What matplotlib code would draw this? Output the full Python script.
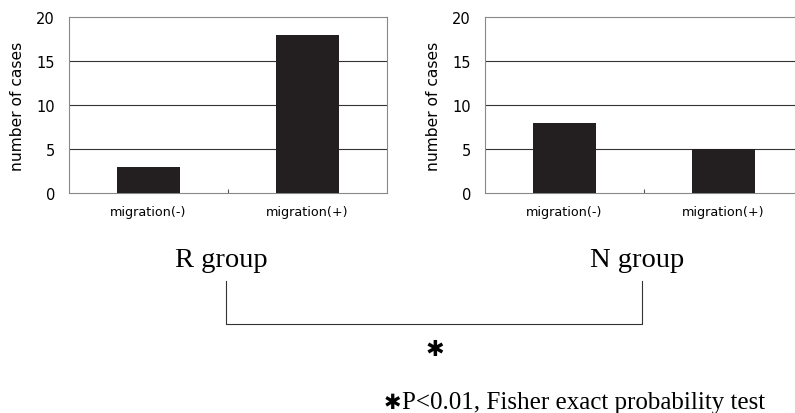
import matplotlib
matplotlib.use("Agg")
import matplotlib.pyplot as plt

# values
categories = ["migration(-)", "migration(+)"]
r_group_cases = [3, 18]
n_group_cases = [8, 5]
y_ticks = [0, 5, 10, 15, 20]
group_names = ["R group", "N group"]
footnote = "P<0.01, Fisher exact probability test"

W, H = 795, 414
BAR_COLOR = "#231f20"


def px_axes(fig, left, top, width, height):
    # place an axes using pixel coordinates measured from the top-left corner
    return fig.add_axes([left / W, (H - top - height) / H, width / W, height / H])


def draw_panel(ax, values):
    x = range(len(categories))
    ax.bar(x, values, width=0.4, color=BAR_COLOR, zorder=3)
    ax.set_xlim(-0.5, len(categories) - 0.5)
    ax.set_ylim(y_ticks[0], y_ticks[-1])
    ax.set_yticks(y_ticks)
    ax.set_yticklabels([str(t) for t in y_ticks], fontsize=10.5)
    ax.tick_params(axis="y", length=0, pad=10)
    # categories as labels without marks, one small inward tick between them
    ax.set_xticks(list(x))
    ax.set_xticklabels(categories, fontsize=9.2)
    ax.tick_params(axis="x", length=0, pad=9)
    ax.set_xticks([0.5], minor=True)
    ax.tick_params(axis="x", which="minor", direction="in", length=3,
                   width=0.8, color="#555555")
    for t in y_ticks[1:-1]:
        ax.axhline(t, color="#333333", linewidth=0.8, zorder=1)
    for side in ax.spines.values():
        side.set_color("#888888")
        side.set_linewidth(0.8)
    ax.set_ylabel("number of cases", fontsize=11.2, labelpad=8)


fig = plt.figure(figsize=(W / 100, H / 100), dpi=100)

ax_r = px_axes(fig, 69, 18, 318, 176)
draw_panel(ax_r, r_group_cases)

ax_n = px_axes(fig, 485, 18, 318, 176)
draw_panel(ax_n, n_group_cases)

# overlay in pixel units for the group names, bracket and notes
ov = fig.add_axes([0, 0, 1, 1])
ov.set_xlim(0, W)
ov.set_ylim(H, 0)
ov.axis("off")

serif = "Liberation Serif"
ov.text(221, 267, group_names[0], fontsize=20.5, family=serif,
        ha="center", va="baseline")
ov.text(637, 267, group_names[1], fontsize=20.5, family=serif,
        ha="center", va="baseline")

ov.plot([226, 226, 642, 642], [282, 325, 325, 282],
        color="#333333", linewidth=0.8)

ov.text(435, 350, "\u2731", fontsize=16, family="DejaVu Sans",
        ha="center", va="center")

ov.text(392, 403, "\u2731", fontsize=15, family="DejaVu Sans",
        ha="center", va="center")
ov.text(402, 409, footnote, fontsize=18, family=serif,
        ha="left", va="baseline")

fig.savefig("out.png", dpi=100)
